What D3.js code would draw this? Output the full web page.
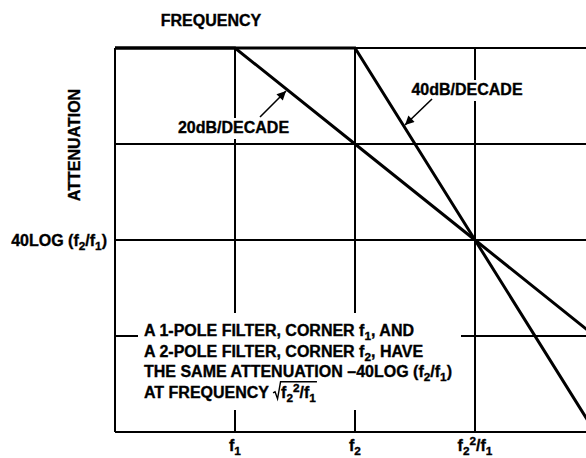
<!DOCTYPE html>
<html><head><meta charset="utf-8">
<script src="https://cdn.jsdelivr.net/npm/d3@7"></script>
<style>html,body{margin:0;padding:0;background:#fff;overflow:hidden}svg{display:block}
text{font-family:"Liberation Sans",Arial,Helvetica,sans-serif;font-weight:bold;fill:#000;stroke:#000;stroke-width:0.35px;white-space:pre}</style>
</head><body>
<svg id="c" width="586" height="458"></svg>
<script>
// --- data (x in units of log(f2/f1) steps, y in units of 20LOG(f2/f1)) ---
const gridX = [0, 1, 2, 3];
const gridY = [0, -1, -2, -3, -4];
const tickX = [1, 2, 3];
const tickLabels = [
  [{t:"f"},{t:"1",s:"sub"}],
  [{t:"f"},{t:"2",s:"sub"}],
  [{t:"f"},{t:"2",s:"sub"},{t:"2",s:"sup"},{t:"/f"},{t:"1",s:"sub"}]
];
const onePoleX = [0, 1, 2, 3, 4];
const onePoleY = [0, 0, -1, -2, -3];
const twoPoleX = [0, 2, 3, 4];
const twoPoleY = [0, 0, -2, -4];
const yLabelValue = -2;
const yLabel = [{t:"40LOG (f"},{t:"2",s:"sub"},{t:"/f"},{t:"1",s:"sub"},{t:")"}];
const noteLines = [
  [{t:"A 1-POLE FILTER, CORNER f"},{t:"1",s:"sub"},{t:", AND"}],
  [{t:"A 2-POLE FILTER, CORNER f"},{t:"2",s:"sub"},{t:", HAVE"}],
  [{t:"THE SAME ATTENUATION \u201340LOG (f"},{t:"2",s:"sub"},{t:"/f"},{t:"1",s:"sub"},{t:")"}],
  [{t:"AT FREQUENCY"}]
];
const radicand = [{t:"f"},{t:"2",s:"sub"},{t:"2",s:"sup"},{t:"/f"},{t:"1",s:"sub"}];

const svg = d3.select("#c");
const x = d3.scaleLinear().domain([0, 4]).range([115, 595]);
const y = d3.scaleLinear().domain([0, -4]).range([48, 432]);
const FS = 16;

function rich(textSel, segs, fs) {
  let cur = 0;
  segs.forEach(s => {
    const target = s.s === "sub" ? 4 : (s.s === "sup" ? -6 : 0);
    const ts = textSel.append("tspan").text(s.t).attr("dy", target - cur);
    if (s.s) ts.attr("font-size", fs * 0.74);
    cur = target;
  });
  return textSel;
}

// grid
const g = svg.append("g").attr("stroke", "#000").attr("stroke-width", 2).attr("fill", "none");
g.selectAll("line.v").data(gridX).join("line")
  .attr("x1", d => x(d)).attr("x2", d => x(d)).attr("y1", y(0)).attr("y2", y(-4));
g.selectAll("line.h").data(gridY).join("line")
  .attr("x1", x(0)).attr("x2", 586).attr("y1", d => y(d)).attr("y2", d => y(d));

// knockouts behind labels
const ko = svg.append("g").attr("fill", "#fff");

// curves
const line = d3.line().x(d => x(d[0])).y(d => y(d[1]));
const curves = svg.append("g").attr("fill", "none").attr("stroke", "#000").attr("stroke-width", 3).attr("stroke-linejoin", "miter");
curves.append("path").attr("d", line(d3.zip(onePoleX, onePoleY)));
curves.append("path").attr("d", line(d3.zip(twoPoleX, twoPoleY)));

// arrow marker
svg.append("defs").append("marker").attr("id", "ah").attr("viewBox", "0 0 10 10")
  .attr("refX", 10).attr("refY", 5).attr("markerWidth", 12).attr("markerHeight", 9)
  .attr("markerUnits", "userSpaceOnUse").attr("orient", "auto")
  .append("path").attr("d", "M0,0 L10,5 L0,10 Z").attr("fill", "#000");

const labels = svg.append("g");

// title
labels.append("text").attr("x", 211).attr("y", 25.5).attr("text-anchor", "middle")
  .attr("font-size", FS).text("FREQUENCY");
labels.append("text").attr("transform", "translate(80,145) rotate(-90)").attr("text-anchor", "middle")
  .attr("font-size", FS).text("ATTENUATION");

// y label
rich(labels.append("text").attr("x", 107).attr("y", y(yLabelValue) + 6).attr("text-anchor", "end")
  .attr("font-size", FS), yLabel, FS);

// x tick labels
tickX.forEach((v, i) => {
  rich(labels.append("text").attr("x", x(v)).attr("y", 451).attr("text-anchor", "middle")
    .attr("font-size", FS), tickLabels[i], FS);
});

// slope labels with knockouts
function slopeLabel(txt, cx, by, tail, tip) {
  const t = labels.append("text").attr("x", cx).attr("y", by).attr("text-anchor", "middle")
    .attr("font-size", FS).text(txt);
  const b = t.node().getBBox();
  ko.append("rect").attr("x", b.x - 3).attr("y", b.y - 1).attr("width", b.width + 6).attr("height", b.height + 4);
  labels.append("line").attr("x1", tail[0]).attr("y1", tail[1]).attr("x2", tip[0]).attr("y2", tip[1])
    .attr("stroke", "#000").attr("stroke-width", 1.6).attr("marker-end", "url(#ah)");
}
slopeLabel("20dB/DECADE", 233.5, 133, [260, 117], [286, 91]);
slopeLabel("40dB/DECADE", 467, 95, [432, 99], [405, 125]);

// note block
const noteX = 144, noteY0 = 336, noteDY = 20.6;
const noteTexts = noteLines.map((segs, i) =>
  rich(labels.append("text").attr("x", noteX).attr("y", noteY0 + i * noteDY).attr("font-size", FS), segs, FS));
// radical on last line
const lw = noteTexts[3].node().getComputedTextLength();
const base = noteY0 + 3 * noteDY;
const rx0 = noteX + lw + 4;
const rt = rich(labels.append("text").attr("x", rx0 + 8).attr("y", base).attr("font-size", FS), radicand, FS);
const rw = rt.node().getComputedTextLength();
labels.append("path")
  .attr("d", `M${rx0},${base - 5} L${rx0 + 2},${base - 6} L${rx0 + 4.5},${base + 1} L${rx0 + 7.5},${base - 16} L${rx0 + 8 + rw + 1},${base - 16}`)
  .attr("fill", "none").attr("stroke", "#000").attr("stroke-width", 1.4);
ko.append("rect").attr("x", 138).attr("y", 313).attr("width", 461 - 138).attr("height", 410 - 313);
</script>
</body></html>
